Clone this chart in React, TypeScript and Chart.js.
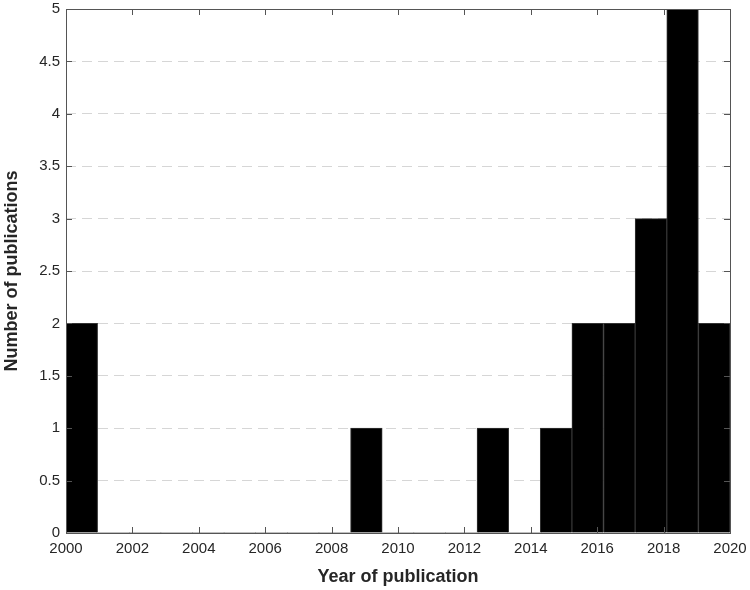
import React, { useEffect, useRef } from "react";
import { Chart, registerables } from "chart.js";

Chart.register(...registerables);

// Histogram bins: 21 equal bins spanning 2000..2020
const binStart = 2000;
const binEnd = 2020;
const binCounts = [2, 0, 0, 0, 0, 0, 0, 0, 0, 1, 0, 0, 0, 1, 0, 1, 2, 2, 3, 5, 2];
const xTickStep = 2;
const yMin = 0;
const yMax = 5;
const yTickStep = 0.5;
const xTitle = "Year of publication";
const yTitle = "Number of publications";

const FONT = "'Liberation Sans', Arial, Helvetica, sans-serif";

const boxPlugin = {
  id: "matlabBox",
  afterDatasetsDraw(chart: any) {
    const { ctx, chartArea } = chart;
    const { left, right, top, bottom } = chartArea;
    const xs = chart.scales.x;
    const ys = chart.scales.y;
    const tl = 6;
    ctx.save();
    ctx.strokeStyle = "#555555";
    ctx.lineWidth = 1;
    ctx.beginPath();
    xs.ticks.forEach((t: any) => {
      const px = Math.round(xs.getPixelForValue(t.value)) + 0.5;
      ctx.moveTo(px, bottom);
      ctx.lineTo(px, bottom - tl);
      ctx.moveTo(px, top);
      ctx.lineTo(px, top + tl);
    });
    ys.ticks.forEach((t: any) => {
      const py = Math.round(ys.getPixelForValue(t.value)) + 0.5;
      ctx.moveTo(left, py);
      ctx.lineTo(left + tl, py);
      ctx.moveTo(right, py);
      ctx.lineTo(right - tl, py);
    });
    ctx.stroke();
    ctx.strokeRect(Math.round(left) + 0.5, Math.round(top) + 0.5, Math.round(right - left), Math.round(bottom - top));
    ctx.restore();
  },
};

export default function App() {
  const ref = useRef<HTMLCanvasElement | null>(null);
  useEffect(() => {
    document.body.style.margin = "0";
    const width = (binEnd - binStart) / binCounts.length;
    const data = binCounts.map((c, i) => ({ x: binStart + (i + 0.5) * width, y: c }));
    const chart = new Chart(ref.current as HTMLCanvasElement, {
      type: "bar",
      data: {
        datasets: [
          {
            data: data as any,
            backgroundColor: "#000000",
            borderColor: "#333333",
            borderWidth: (ctx: any) => (ctx.raw && ctx.raw.y > 0 ? 1 : 0),
            barPercentage: 1,
            categoryPercentage: 1,
          },
        ],
      },
      options: {
        animation: false,
        responsive: false,
        maintainAspectRatio: false,
        layout: { padding: { left: 0, right: 20, top: 0, bottom: 0 } },
        plugins: { legend: { display: false }, tooltip: { enabled: false } },
        scales: {
          x: {
            type: "linear",
            min: binStart,
            max: binEnd,
            offset: false,
            afterFit: (s: any) => {
              s.height = 57;
              s.paddingLeft = 0;
              s.paddingRight = 0;
            },
            ticks: {
              stepSize: xTickStep,
              color: "#262626",
              font: { family: FONT, size: 15 },
              padding: 7,
              maxRotation: 0,
              callback: (v: any) => String(v),
            },
            grid: { display: false, drawTicks: false, offset: false },
            border: { display: false },
            title: {
              display: true,
              text: xTitle,
              color: "#262626",
              font: { family: FONT, size: 18, weight: "bold" },
              padding: { top: 0, bottom: 2 },
            },
          },
          y: {
            type: "linear",
            min: yMin,
            max: yMax,
            afterFit: (s: any) => {
              s.width = 66;
              s.paddingTop = 9;
            },
            ticks: {
              stepSize: yTickStep,
              color: "#262626",
              font: { family: FONT, size: 15 },
              padding: 6,
              callback: (v: any) => String(v),
            },
            grid: { color: "#d6d6d6", lineWidth: 1, drawTicks: false },
            border: { display: false, dash: [10, 6] },
            title: {
              display: true,
              text: yTitle,
              color: "#262626",
              font: { family: FONT, size: 18, weight: "bold" },
              padding: { top: 1, bottom: 0 },
            },
          },
        },
      },
      plugins: [boxPlugin],
    });
    return () => chart.destroy();
  }, []);
  return (
    <div style={{ width: 750, height: 590 }}>
      <canvas ref={ref} width={750} height={590} style={{ width: 750, height: 590, display: "block" }} />
    </div>
  );
}
